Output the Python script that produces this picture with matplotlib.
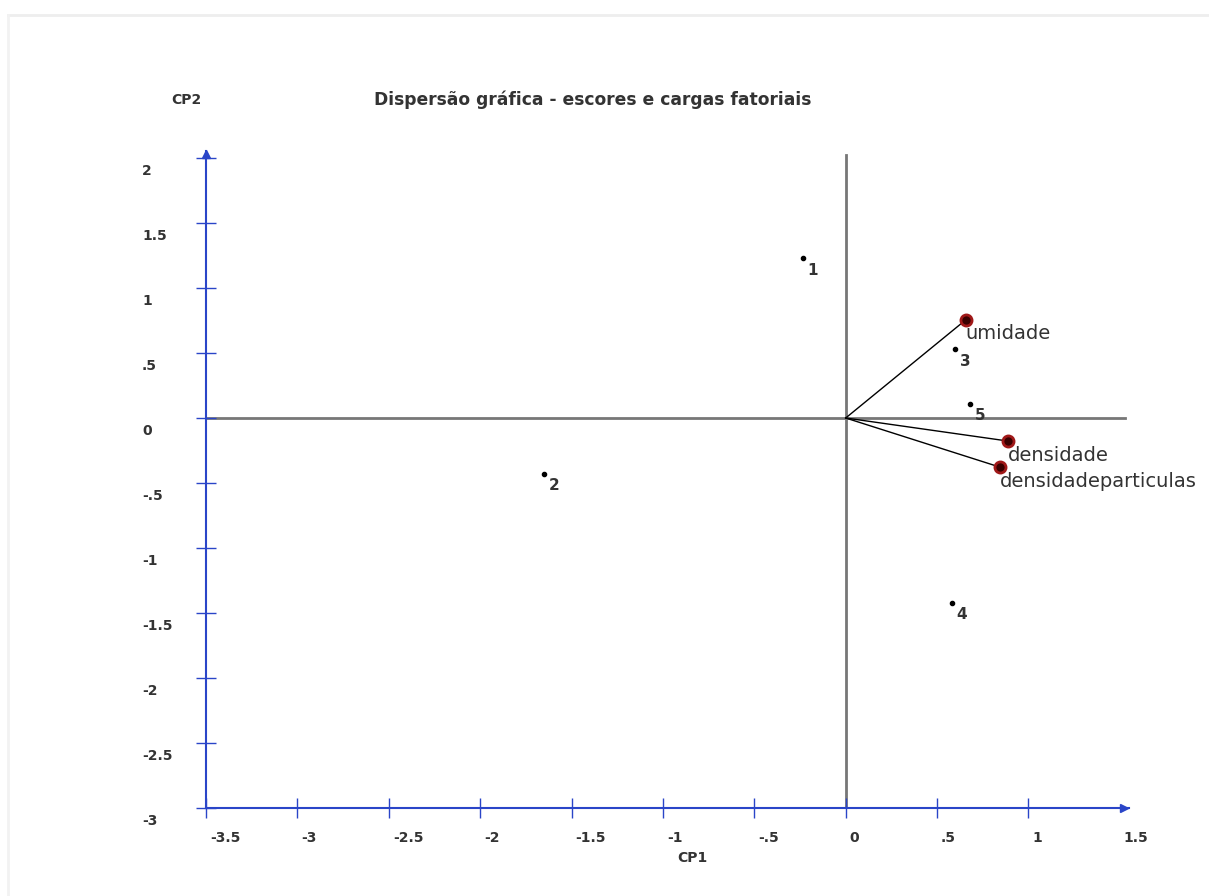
import matplotlib.pyplot as plt
from matplotlib.lines import Line2D

# escores (CP1, CP2) das amostras
amostras = ["1", "2", "3", "4", "5"]
cp1_escores = [-0.235, -1.652, 0.60, 0.58, 0.68]
cp2_escores = [1.23, -0.43, 0.53, -1.42, 0.108]

# cargas fatoriais das variaveis
variaveis = ["umidade", "densidade", "densidadeparticulas"]
cp1_cargas = [0.656, 0.886, 0.842]
cp2_cargas = [0.754, -0.177, -0.377]

xticks = [-3.5, -3, -2.5, -2, -1.5, -1, -0.5, 0, 0.5, 1, 1.5]
xticklabels = ["-3.5", "-3", "-2.5", "-2", "-1.5", "-1", "-.5", "0", ".5", "1", "1.5"]
yticks = [2, 1.5, 1, 0.5, 0, -0.5, -1, -1.5, -2, -2.5, -3]
yticklabels = ["2", "1.5", "1", ".5", "0", "-.5", "-1", "-1.5", "-2", "-2.5", "-3"]

W, H = 1209, 896
azul = "#2a45c8"
cinza = "#777777"
texto = "#333333"

fig = plt.figure(figsize=(W / 100, H / 100), dpi=100)

# moldura bem clara da imagem original
fig.add_artist(Line2D([8 / W, 1], [1 - 15 / H, 1 - 15 / H], color="#eeeeee", lw=2))
fig.add_artist(Line2D([8 / W, 8 / W], [0, 1 - 15 / H], color="#f2f2f2", lw=2))

ax = fig.add_axes([206 / W, 88 / H, 923 / W, 656.5 / H])
ax.set_xlim(-3.5, 1.55)
ax.set_ylim(-3, 2.05)

for s in ["top", "right"]:
    ax.spines[s].set_visible(False)
for s in ["left", "bottom"]:
    ax.spines[s].set_color(azul)
    ax.spines[s].set_linewidth(1.5)

ax.set_xticks(xticks[:-1])
ax.set_yticks(yticks)
ax.tick_params(direction="inout", length=14, width=1, color=azul,
               labelbottom=False, labelleft=False)

# setas dos eixos
ax.plot([1.52], [-3], marker=">", color=azul, ms=6, clip_on=False)
ax.plot([-3.5], [2.03], marker="^", color=azul, ms=6, clip_on=False)

# linhas de referencia
ax.plot([-3.5, 1.53], [0, 0], color=cinza, lw=2, zorder=1)
ax.plot([0, 0], [-3, 2.02], color=cinza, lw=2, zorder=1)

# rotulos dos eixos
for v, lab in zip(xticks, xticklabels):
    ax.annotate(lab, xy=(v, -3), xytext=(4, -30), textcoords="offset pixels",
                ha="left", va="center", fontsize=10, fontweight="bold",
                color=texto, annotation_clip=False)
for v, lab in zip(yticks, yticklabels):
    ax.annotate(lab, xy=(-3.5, v), xytext=(-64, -13), textcoords="offset pixels",
                ha="left", va="center", fontsize=10, fontweight="bold",
                color=texto, annotation_clip=False)

# escores
ax.plot(cp1_escores, cp2_escores, "o", color="black", ms=3, zorder=3)
for x, y, lab in zip(cp1_escores, cp2_escores, amostras):
    ax.annotate(lab, xy=(x, y), xytext=(5, -12), textcoords="offset pixels",
                ha="left", va="center", fontsize=11, fontweight="bold", color=texto)

# cargas
for x, y, lab in zip(cp1_cargas, cp2_cargas, variaveis):
    ax.plot([0, x], [0, y], color="black", lw=1, zorder=2)
    ax.annotate(lab, xy=(x, y), xytext=(0, -14), textcoords="offset pixels",
                ha="left", va="center", fontsize=14, color=texto)
ax.plot(cp1_cargas, cp2_cargas, "o", ms=8, mfc="#3a0000", mec="#a01818", mew=2, zorder=4)

fig.text(186 / W, 1 - 100 / H, "CP2", ha="center", va="center",
         fontsize=10, fontweight="bold", color=texto)
fig.text(593 / W, 1 - 100 / H, "Dispersão gráfica - escores e cargas fatoriais",
         ha="center", va="center", fontsize=12.3, fontweight="bold", color=texto)
fig.text(692 / W, 1 - 858 / H, "CP1", ha="center", va="center",
         fontsize=10, fontweight="bold", color=texto)

fig.savefig("out.png", dpi=100)
